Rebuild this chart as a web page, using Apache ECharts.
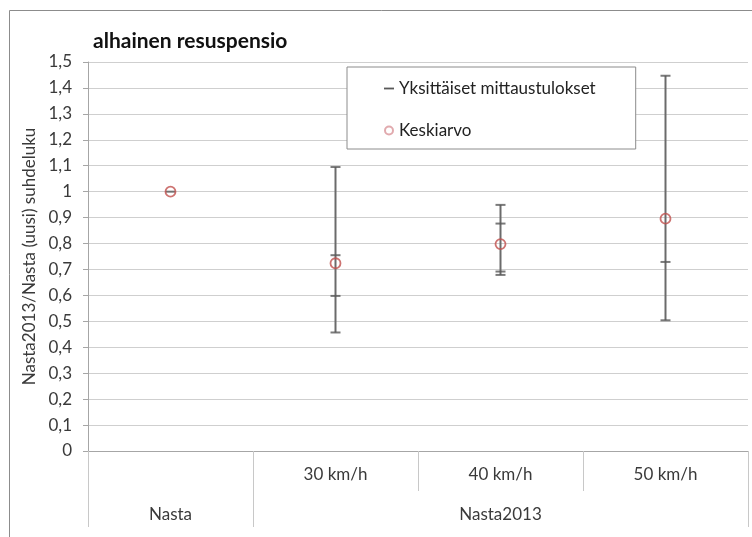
<!DOCTYPE html>
<html>
<head>
<meta charset="utf-8">
<script src="https://cdn.jsdelivr.net/npm/echarts@6/dist/echarts.min.js"></script>
<style>
html,body{margin:0;padding:0;background:#fff;}
#chart{width:752px;height:537px;}
</style>
</head>
<body>
<div id="chart"></div>
<script>
// ---- data ----
const titleText = 'alhainen resuspensio';
const yAxisName = 'Nasta2013/Nasta (uusi) suhdeluku';
const categories = ['Nasta', '30 km/h', '40 km/h', '50 km/h'];
const groupNames = ['Nasta', 'Nasta2013'];
const groupSpans = [1, 3];
const individualName = 'Yksittäiset mittaustulokset';
const meanName = 'Keskiarvo';
const individualValues = [
  [1.0],
  [1.095, 0.755, 0.598, 0.457],
  [0.949, 0.877, 0.692, 0.679],
  [1.447, 0.729, 0.504]
];
const meanValues = [1.0, 0.724, 0.798, 0.896];
const yMin = 0, yMax = 1.5, yStep = 0.1;

// ---- derived ----
const firstRowLabels = categories.map((c, i) => i === 0 ? '' : c);
const groupLabelAt = categories.map(() => '');
const groupBoundary = categories.map(() => false);
let start = 0;
groupNames.forEach((g, k) => {
  groupBoundary[start] = true;
  groupLabelAt[start + Math.floor((groupSpans[k] - 1) / 2)] = g;
  start += groupSpans[k];
});
const rangeData = individualValues.map((vals, i) => [i, Math.min(...vals), Math.max(...vals)]);
const dashData = [];
individualValues.forEach((vals, i) => vals.forEach(v => dashData.push([i, v])));
const meanData = meanValues.map((v, i) => [i, v]);

const fmt = v => String(Math.round(v * 10) / 10).replace('.', ',');
const FONT = 'Lato';
const TXT = '#3a3a3a';
const FS = 17;

const chart = echarts.init(document.getElementById('chart'));
chart.setOption({
  animation: false,
  backgroundColor: '#fff',
  textStyle: {fontFamily: FONT},
  title: {
    text: titleText, left: 88, top: 26,
    textStyle: {fontFamily: FONT, fontSize: 21, fontWeight: 'bold', color: '#111'}
  },
  graphic: [{
    type: 'rect', left: 7, top: 8, z: -10,
    shape: {width: 760, height: 540},
    style: {fill: 'none', stroke: '#8c8c8c', lineWidth: 1}
  }],
  legend: {
    left: 347, top: 67, orient: 'vertical',
    backgroundColor: '#fff', borderColor: '#8c8c8c', borderWidth: 1,
    padding: [13, 40, 10, 37], itemGap: 25,
    itemWidth: 10, itemHeight: 8,
    textStyle: {fontFamily: FONT, fontSize: FS, color: '#222'},
    data: [
      {name: individualName, icon: 'path://M0,0H10V1.8H0Z', itemStyle: {color: '#595959'}},
      {name: meanName, icon: 'emptyCircle', itemStyle: {color: '#d9959a'}}
    ]
  },
  grid: {left: 88, right: 4, top: 62, bottom: 86},
  xAxis: [{
    type: 'category', data: categories, position: 'bottom',
    axisLine: {show: true, lineStyle: {color: '#a6a6a6', width: 1}},
    axisTick: {show: true, length: 40, interval: 0, lineStyle: {color: '#c8c8c8'}},
    axisLabel: {interval: 0, margin: 15, fontSize: FS, color: TXT, fontFamily: FONT,
      formatter: (v, i) => firstRowLabels[i]},
    splitLine: {show: false}
  }, {
    type: 'category', data: categories, position: 'bottom', offset: 40,
    axisLine: {show: false},
    axisTick: {show: true, length: 36, interval: (i) => groupBoundary[i], lineStyle: {color: '#c8c8c8'}},
    axisLabel: {interval: 0, margin: 15, fontSize: FS, color: TXT, fontFamily: FONT,
      formatter: (v, i) => groupLabelAt[i]},
    splitLine: {show: false}
  }],
  yAxis: {
    type: 'value', min: yMin, max: yMax, interval: yStep,
    name: yAxisName, nameLocation: 'middle', nameGap: 47,
    nameTextStyle: {fontSize: FS, color: TXT, fontFamily: FONT},
    axisLine: {show: true, lineStyle: {color: '#a6a6a6'}},
    axisTick: {show: true, length: 5, lineStyle: {color: '#a6a6a6'}},
    axisLabel: {fontSize: FS, color: TXT, fontFamily: FONT, margin: 16, formatter: fmt},
    splitLine: {show: true, lineStyle: {color: '#cfcfcf', width: 1}}
  },
  series: [{
    name: individualName, type: 'custom', xAxisIndex: 0,
    itemStyle: {color: '#595959'},
    encode: {x: 0, y: [1, 2]},
    data: rangeData,
    renderItem: (params, api) => {
      const p1 = api.coord([api.value(0), api.value(1)]);
      const p2 = api.coord([api.value(0), api.value(2)]);
      return {type: 'line', shape: {x1: p1[0], y1: p1[1], x2: p2[0], y2: p2[1]},
        style: {stroke: '#6b6b6b', lineWidth: 2}};
    },
    z: 2
  }, {
    name: individualName, type: 'scatter', xAxisIndex: 0,
    symbol: 'rect', symbolSize: [10, 2],
    itemStyle: {color: '#595959'},
    data: dashData, z: 3
  }, {
    name: meanName, type: 'scatter', xAxisIndex: 0,
    symbol: 'circle', symbolSize: 10,
    itemStyle: {color: 'rgba(255,255,255,0)', borderColor: '#c0504d', borderWidth: 1.8},
    data: meanData, z: 4
  }]
});
</script>
</body>
</html>
